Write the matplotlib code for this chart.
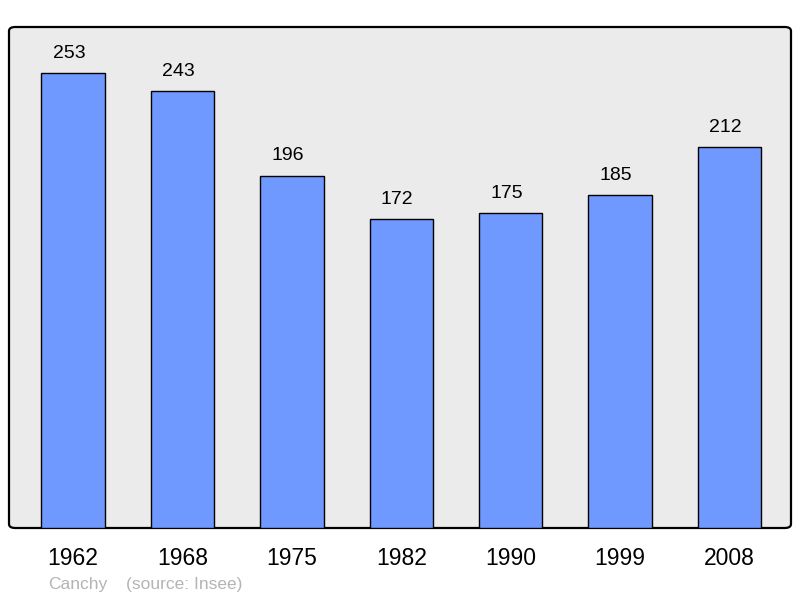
import matplotlib.pyplot as plt
from matplotlib.patches import FancyBboxPatch

plt.rcParams['font.family'] = ['Liberation Sans', 'DejaVu Sans']

years = ["1962", "1968", "1975", "1982", "1990", "1999", "2008"]
population = [253, 243, 196, 172, 175, 185, 212]

fig = plt.figure(figsize=(8, 5.98), dpi=100)
ax = fig.add_axes([9 / 800, 70 / 598, 782 / 800, 501 / 598])
ax.set_facecolor("none")

# rounded grey frame behind the bars
frame = FancyBboxPatch((0, 0), 1, 1,
                       boxstyle="round,pad=0,rounding_size=0.008",
                       transform=ax.transAxes, facecolor="#ebebeb",
                       edgecolor="black", linewidth=1.6, zorder=0,
                       clip_on=False)
ax.add_patch(frame)

x = range(len(years))
ax.bar(x, population, width=0.58, color="#7099ff", edgecolor="black",
       linewidth=1.0, zorder=2)

for xi, v in zip(x, population):
    ax.annotate(str(v), (xi, v), xytext=(-3, 8), textcoords="offset points",
                ha="center", va="bottom", fontsize=14, color="black")

ax.set_xlim(-0.585, 6.562)
ax.set_ylim(0, 278.6)
ax.set_xticks(list(x))
ax.set_xticklabels(years, fontsize=16.5)
ax.tick_params(axis="x", length=0, pad=14)
ax.set_yticks([])
for s in ax.spines.values():
    s.set_visible(False)

fig.text(48 / 800, 1 - 585 / 598, "Canchy", fontsize=12.5, color="#b4b4b4",
         va="center", ha="left")
fig.text(126 / 800, 1 - 585 / 598, "(source: Insee)", fontsize=12.5,
         color="#b4b4b4", va="center", ha="left")

fig.savefig("out.png", dpi=100)
